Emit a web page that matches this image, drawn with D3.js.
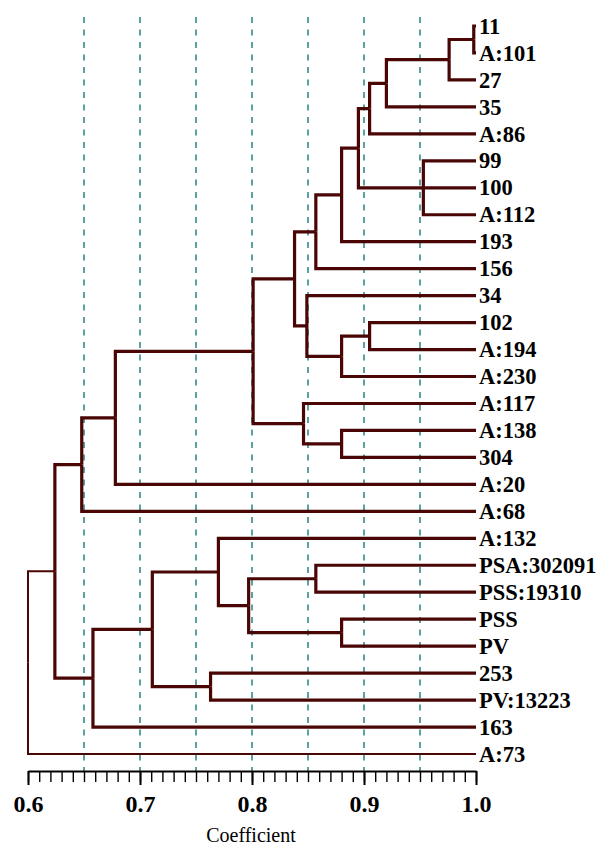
<!DOCTYPE html>
<html>
<head>
<meta charset="utf-8">
<script src="https://cdn.jsdelivr.net/npm/d3@7"></script>
<style>
  body { margin: 0; background: #fff; }
  svg { display: block; }
</style>
</head>
<body>
<svg id="chart" width="603" height="845"></svg>
<script>
// leaves, top to bottom
const leaves = ["11", "A:101", "27", "35", "A:86", "99", "100", "A:112", "193", "156",
  "34", "102", "A:194", "A:230", "A:117", "A:138", "304", "A:20", "A:68", "A:132",
  "PSA:302091", "PSS:19310", "PSS", "PV", "253", "PV:13223", "163", "A:73"];

// clusters: id, members, similarity coefficient where they join
const clusterIds = ["m1", "m2", "m3", "m4", "m5", "m6", "m7", "m8", "m9", "m10", "m11", "m12", "m13",
  "m14", "m15", "m16", "m17", "m18", "m19", "m20", "m21", "m22", "m23", "m24", "m25", "m26"];
const clusterChildren = [
  ["11", "A:101"], ["m1", "27"], ["m2", "35"], ["m3", "A:86"], ["99", "100", "A:112"],
  ["m4", "m5"], ["m6", "193"], ["m7", "156"], ["102", "A:194"], ["m9", "A:230"],
  ["34", "m10"], ["m8", "m11"], ["A:138", "304"], ["A:117", "m13"], ["m12", "m14"],
  ["m15", "A:20"], ["m16", "A:68"], ["PSA:302091", "PSS:19310"], ["PSS", "PV"], ["m18", "m19"],
  ["A:132", "m20"], ["253", "PV:13223"], ["m21", "m22"], ["m23", "163"], ["m17", "m24"],
  ["m25", "A:73"]];
const clusterCoef = [0.998, 0.976, 0.920, 0.905, 0.953, 0.895, 0.880, 0.857, 0.905, 0.880,
  0.849, 0.838, 0.880, 0.846, 0.801, 0.678, 0.648, 0.857, 0.880, 0.797,
  0.770, 0.763, 0.711, 0.658, 0.624, 0.600];

const majorTicks = [0.6, 0.7, 0.8, 0.9, 1.0];
const gridValues = [0.65, 0.7, 0.75, 0.8, 0.85, 0.9, 0.95];

const svg = d3.select("#chart");
const lineColor = "#4a0505";
const firstY = 26, lastY = 754, axisY = 771;
const serif = "'Liberation Serif', 'Times New Roman', Times, serif";

const x = d3.scaleLinear().domain([0.6, 1.0]).range([28, 476]);

// build nested tree from the cluster table
function build(id) {
  const i = clusterIds.indexOf(id);
  if (i < 0) return { name: id, coef: 1.0 };
  return { name: id, coef: clusterCoef[i], children: clusterChildren[i].map(build) };
}
const root = d3.hierarchy(build("m26"));
// cluster layout pads half a row at each end, so size it to n rows
const rowH = (lastY - firstY) / (leaves.length - 1);
d3.cluster().size([rowH * leaves.length, 1]).separation(() => 1)(root);
const yPos = d => firstY - rowH / 2 + d.x;

// dashed reference lines
svg.append("g").selectAll("line")
  .data(gridValues)
  .join("line")
  .attr("x1", d => x(d)).attr("x2", d => x(d))
  .attr("y1", 17).attr("y2", axisY)
  .attr("stroke", "#4a9898")
  .attr("stroke-width", 1.8)
  .attr("stroke-dasharray", "6,6.5");

// elbow links
svg.append("g").selectAll("path")
  .data(root.links())
  .join("path")
  .attr("fill", "none")
  .attr("stroke", lineColor)
  .attr("stroke-width", d => d.source.depth === 0 ? 2 : 3.2)
  .attr("stroke-linejoin", "miter")
  .attr("d", d => "M" + x(d.source.data.coef) + "," + yPos(d.source) +
    "V" + yPos(d.target) + "H" + x(d.target.data.coef));

// leaf labels
svg.append("g").selectAll("text")
  .data(root.leaves())
  .join("text")
  .attr("x", 479)
  .attr("y", d => yPos(d))
  .attr("dy", "0.34em")
  .attr("font-family", serif)
  .attr("font-weight", "bold")
  .attr("font-size", 22.5)
  .attr("fill", "#000")
  .text(d => d.data.name);

// axis: minor ticks every 0.01, major every 0.1
const minor = svg.append("g").attr("transform", "translate(0," + axisY + ")")
  .call(d3.axisBottom(x).tickValues(d3.range(60, 101).map(v => v / 100))
    .tickSize(11).tickSizeOuter(0).tickFormat(""));
minor.select(".domain").attr("stroke", "#000").attr("stroke-width", 2);
minor.selectAll(".tick line").attr("stroke", "#000").attr("stroke-width", 1.4);

const major = svg.append("g").attr("transform", "translate(0," + axisY + ")")
  .call(d3.axisBottom(x).tickValues(majorTicks).tickSize(14).tickSizeOuter(0)
    .tickFormat(d3.format(".1f")));
major.select(".domain").remove();
major.selectAll(".tick line").attr("stroke", "#000").attr("stroke-width", 2);
major.selectAll(".tick text")
  .attr("y", 41).attr("dy", 0)
  .attr("fill", "#000")
  .attr("font-family", serif)
  .attr("font-weight", "bold")
  .attr("font-size", 24);

svg.append("text")
  .attr("x", 251).attr("y", 842)
  .attr("text-anchor", "middle")
  .attr("font-family", serif)
  .attr("font-size", 20)
  .attr("fill", "#000")
  .text("Coefficient");
</script>
</body>
</html>
